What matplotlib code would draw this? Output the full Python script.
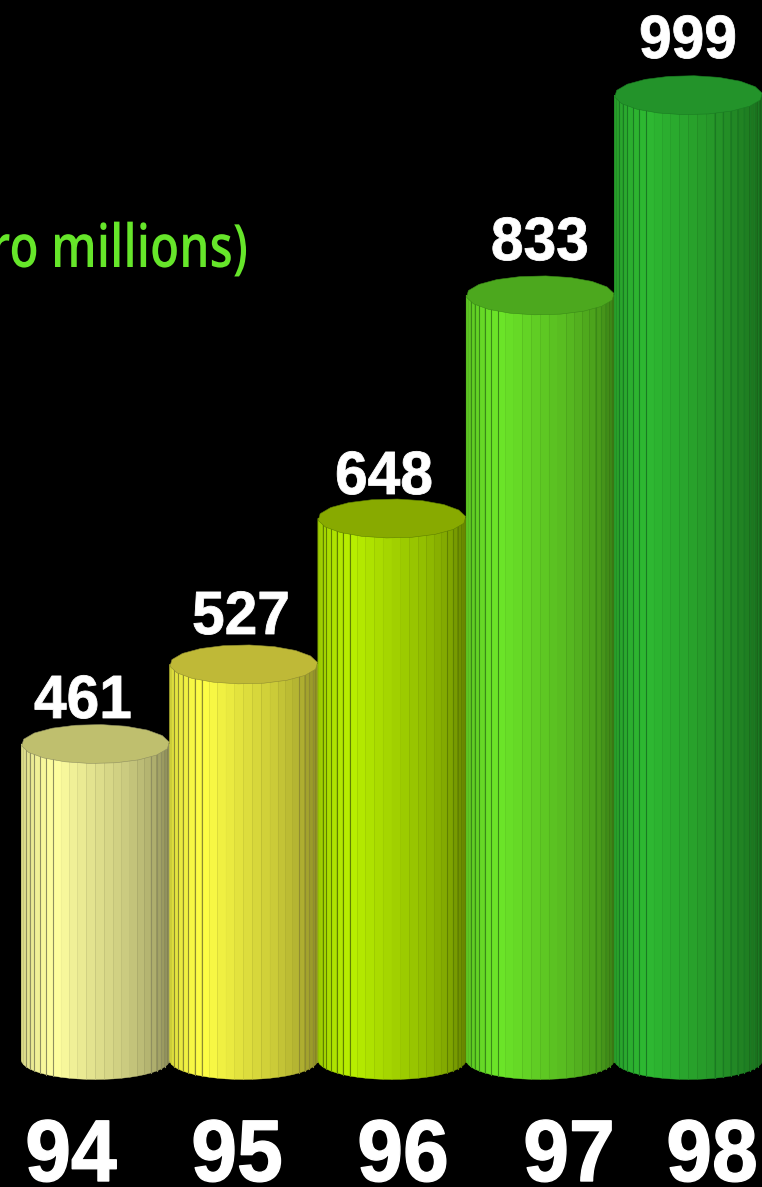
import numpy as np
import matplotlib
matplotlib.use('Agg')
import matplotlib.pyplot as plt
from matplotlib.patheffects import AbstractPathEffect
from matplotlib.transforms import Affine2D

years = ['94', '95', '96', '97', '98']
values = [461, 527, 648, 833, 999]
base_value = 199

side_colors = ['#ffffa0', '#ffff46', '#b9f000', '#6ce628', '#2eb932']
top_colors = ['#bfbf6e', '#bfb937', '#88aa00', '#4ca81e', '#23932a']
line_colors = ['#8f8f60', '#8f8c30', '#5f8000', '#3a8a18', '#1a7a22']
lines_left = [8, 8, 8, 8, 8]
lines_right = [6, 6, 6, 6, 10]

value_label_x = [83, 241, 384, 540, 688]
value_label_y = [718, 634, 494, 260, 58]
year_label_x = [71, 237, 403, 569, 712]

W, H = 762, 1187
PX_PER_UNIT = 1.206
CAT_W = 148.25
FACETS = 26
RIM = 19.5 / PX_PER_UNIT


class Squeeze(AbstractPathEffect):
    # narrows a text around a fixed x position in pixels, with an optional outline
    def __init__(self, x0, factor, stroke=0):
        self.x0 = x0
        self.factor = factor
        self.stroke = stroke

    def draw_path(self, renderer, gc, tpath, affine, rgbFace=None):
        squeeze = Affine2D().translate(-self.x0, 0).scale(self.factor, 1).translate(self.x0, 0)
        gc0 = renderer.new_gc()
        gc0.copy_properties(gc)
        gc0.set_linewidth(self.stroke)
        gc0.set_foreground(rgbFace)
        renderer.draw_path(gc0, tpath, affine + squeeze, rgbFace)
        gc0.restore()


fig = plt.figure(figsize=(W / 100, H / 100), dpi=100, facecolor='black')
ax = fig.add_axes([0, 0, 1, 1], facecolor='black')
ax.set_xlim(-95.5 / CAT_W, (W - 95.5) / CAT_W)
ax.set_ylim(461 - (H - 744) / PX_PER_UNIT, 461 + 744 / PX_PER_UNIT)
ax.axis('off')

# text is placed in pixels from the top left corner
def text_px(x, y, s, **kw):
    return ax.text(x / W, 1 - y / H, s, transform=ax.transAxes, **kw)

shade_u = [0, .05, .15, .22, .45, .7, .9, 1]
shade_v = [.84, .9, .97, 1, .9, .8, .68, .55]

def shaded(color, u):
    rgb = np.array(matplotlib.colors.to_rgb(color))
    return tuple(rgb * np.interp(u, shade_u, shade_v))

theta = np.linspace(np.pi, 0, FACETS + 1)
for i, v in enumerate(values):
    xs = i + 0.5 * np.cos(theta)
    ys = base_value - RIM * np.sin(theta)
    for k in range(FACETS):
        c = shaded(side_colors[i], (xs[k] + xs[k + 1]) / 2 - i + 0.5)
        ax.fill([xs[k], xs[k + 1], xs[k + 1], xs[k]], [v, v, ys[k + 1], ys[k]],
                facecolor=c, edgecolor=c, linewidth=0.3, zorder=2 + i)
    # dark facet lines towards both sides of the cylinder
    right = [k for k in range(1, lines_right[i] + 1) if k != 2]
    for k in list(range(3, lines_left[i] + 1)) + [FACETS - k for k in right]:
        ax.plot([xs[k], xs[k]], [v, ys[k]], color=line_colors[i], lw=0.8, zorder=2 + i)
    t = np.linspace(0, 2 * np.pi, 19)[:-1] + 0.1
    ax.fill(i + 0.5 * np.cos(t), v + RIM * np.sin(t), facecolor=top_colors[i],
            edgecolor=line_colors[i], linewidth=0.4, zorder=2 + i)
    label = text_px(value_label_x[i], value_label_y[i], str(v), color='white', fontsize=44,
                    family='Liberation Sans', weight='bold', ha='center', va='baseline', zorder=20)
    label.set_path_effects([Squeeze(value_label_x[i], 0.96, 0.6)])
    year = text_px(year_label_x[i], 1181, years[i], color='white', fontsize=63,
                   family='Liberation Sans', weight='bold', ha='center', va='baseline', zorder=20)
    year.set_path_effects([Squeeze(year_label_x[i], 0.94, 1.0)])

title = text_px(248, 267, '(Euro millions)', color='#66e62a', fontsize=43,
                family='Open Sans', weight=600, ha='right', va='baseline', zorder=20)
title.set_path_effects([Squeeze(248, 0.8)])

fig.savefig('out.png', dpi=100, facecolor='black')
